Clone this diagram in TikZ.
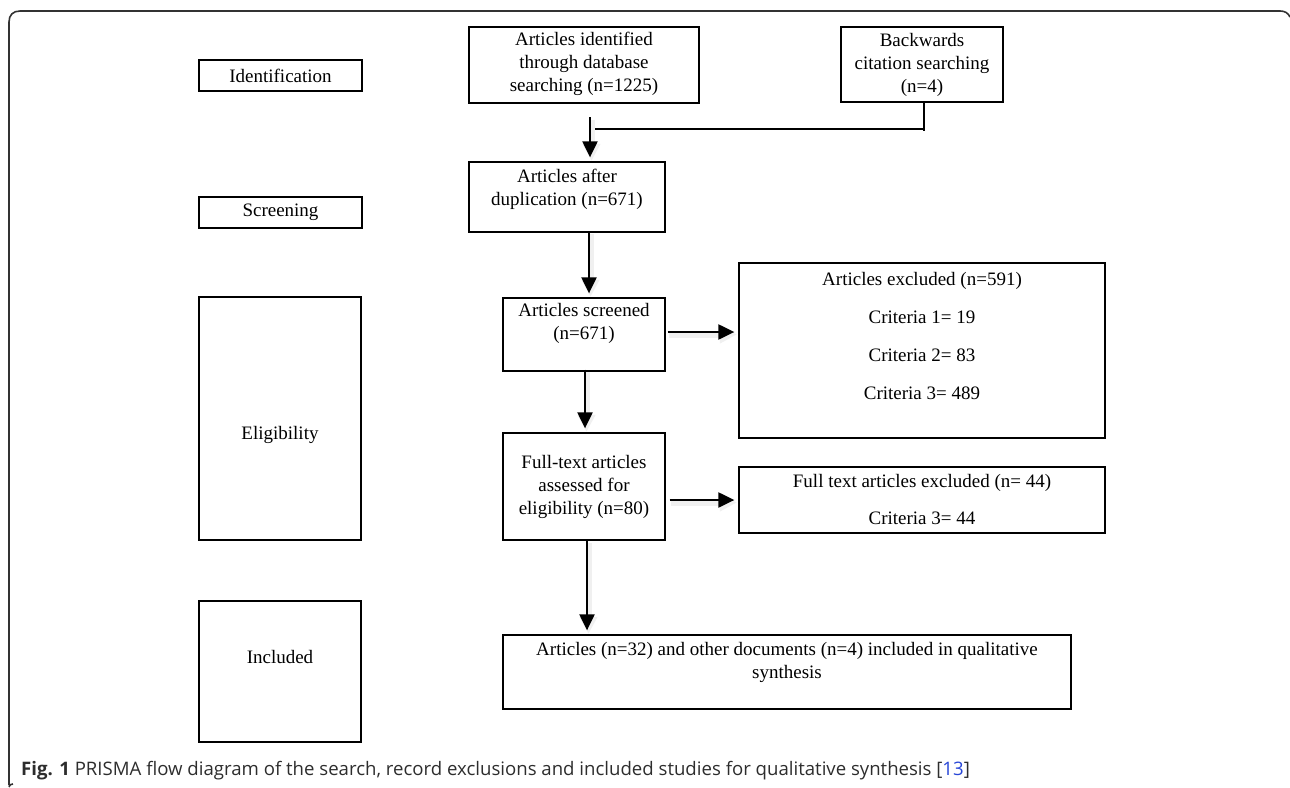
\documentclass[tikz,border=0pt]{standalone}
\usepackage{fontspec}
\setmainfont{Liberation Serif}
\newfontfamily\capfont{Open Sans}
\usetikzlibrary{arrows.meta}
\definecolor{capgray}{RGB}{45,45,45}
\definecolor{refblue}{RGB}{40,70,215}
\definecolor{framegray}{RGB}{50,50,50}
\begin{document}
\begin{tikzpicture}[x=1pt,y=-1pt,
  box/.style={draw, line width=1.3pt, inner sep=0pt},
  txt/.style={align=center, inner sep=0pt, font=\fontsize{19}{23}\selectfont},
  arr/.style={line width=2.2pt, shorten >=4pt, -{Triangle[length=16pt,width=15pt]},
    preaction={draw=black!6, line width=6pt, shorten >=3pt, -{Triangle[length=17pt,width=17pt]}, transform canvas={shift={(1.5pt,-2.5pt)}}}},
  link/.style={line width=1.5pt},
]
\useasboundingbox (0,0) rectangle (1290,787);
% frame
\draw[framegray, line width=1.6pt] (13,784) .. controls (11,784) and (9,785) .. (9,787)
  (9,785) -- (9,22) .. controls (9,15) and (13,11) .. (20,11) -- (1280,11)
  .. controls (1285,11) and (1288,13) .. (1290,17);

% boxes
\node[box, minimum width=163, minimum height=31] (idl) at (280.5,75.5) {};
\node[box, minimum width=230, minimum height=76] (src) at (584,65) {};
\node[box, minimum width=162, minimum height=75] (back) at (922,64.5) {};
\node[box, minimum width=196, minimum height=70] (dup) at (567,197) {};
\node[box, minimum width=163, minimum height=31] (scr) at (280.5,212.5) {};
\node[box, minimum width=162, minimum height=73] (screened) at (584,334.5) {};
\node[box, minimum width=366, minimum height=175] (excl) at (922,350.5) {};
\node[box, minimum width=162, minimum height=243] (elig) at (280,418.5) {};
\node[box, minimum width=162, minimum height=107] (full) at (584,486.5) {};
\node[box, minimum width=366, minimum height=66] (ftexcl) at (922,500) {};
\node[box, minimum width=162, minimum height=141] (incl) at (280,671.5) {};
\node[box, minimum width=568, minimum height=74] (final) at (787,672) {};

% texts
\node[txt] (tidl) at (idl.center) {Identification};
\node[txt] (tsrc) at (584,64) {Articles identified\\through database\\searching (n=1225)};
\node[txt] (tback) at (922,65) {Backwards\\citation searching\\(n=4)};
\node[txt] (tdup) at (567,189.5) {Articles after\\duplication (n=671)};
\node[txt] (tscr) at (scr.center) {Screening};
\node[txt] (tscreened) at (584,323.5) {Articles screened\\(n=671)};
\node[txt, font=\fontsize{19}{38}\selectfont] (texcl) at (922,335.5) {Articles excluded (n=591)\\Criteria 1= 19\\Criteria 2= 83\\Criteria 3= 489};
\node[txt] (telig) at (280,435) {Eligibility};
\node[txt] (tfull) at (584,486.5) {Full-text articles\\assessed for\\eligibility (n=80)};
\node[txt, font=\fontsize{19}{37}\selectfont] (tftexcl) at (922,499.5) {Full text articles excluded (n= 44)\\Criteria 3= 44};
\node[txt] (tincl) at (280,657) {Included};
\node[txt] (tfinal) at (787,662) {Articles (n=32) and other documents (n=4) included in qualitative\\synthesis};

% connectors
\coordinate (j1) at (590,117);
\coordinate (hj) at (924,129);
\coordinate (hk) at (924,131);
\draw[link] (j1 |- hj) -- (hj);
\draw[link] (back.south -| hk) -- (hk);
\draw[arr] (j1) -- (j1 |- dup.north);
\coordinate (c2) at (589,0);
\draw[arr] ([yshift=1pt]dup.south -| c2) -- (screened.north -| c2);
\coordinate (c3) at (0,332);
\draw[arr] ([xshift=2pt]screened.east |- c3) -- (excl.west |- c3);
\coordinate (c4) at (585,0);
\draw[arr] ([yshift=2pt]screened.south -| c4) -- (full.north -| c4);
\coordinate (c5) at (0,500);
\draw[arr] ([xshift=4pt]full.east |- c5) -- (ftexcl.west |- c5);
\coordinate (c6) at (587,0);
\draw[arr] (full.south -| c6) -- (final.north -| c6);

% caption
\node[anchor=base west, inner sep=0pt, text=capgray, font=\capfont\fontsize{18.6}{22}\selectfont] (cap) at (21,775)
  {\textbf{Fig. 1} PRISMA flow diagram of the search, record exclusions and included studies for qualitative synthesis [\textcolor{refblue}{13}]};
\end{tikzpicture}
\end{document}
